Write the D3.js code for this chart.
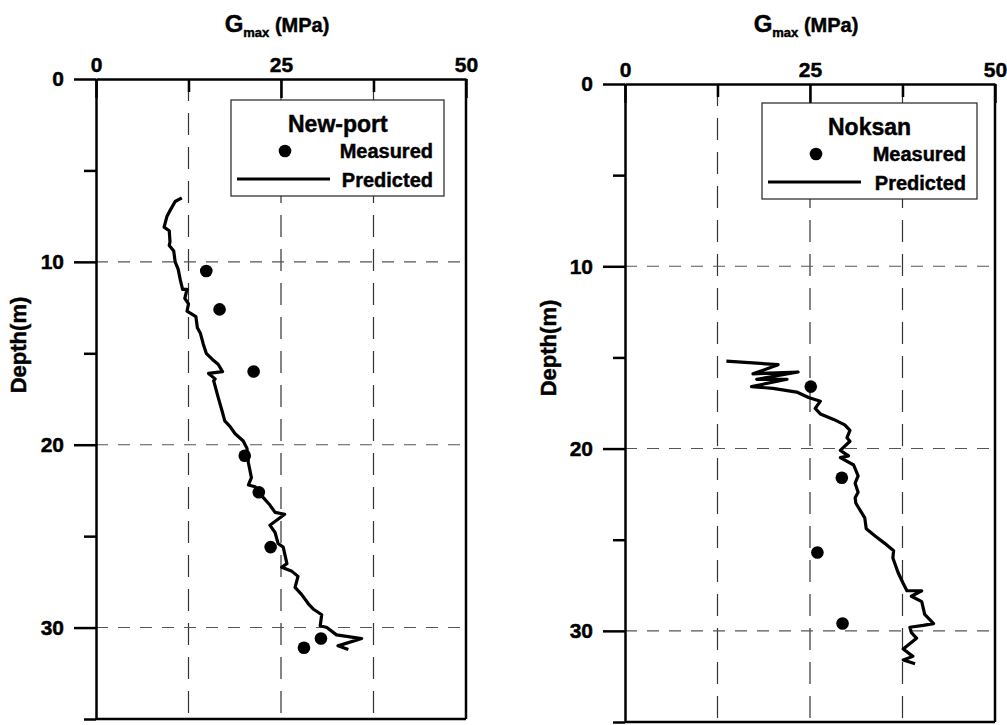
<!DOCTYPE html>
<html>
<head>
<meta charset="utf-8">
<script src="https://cdn.jsdelivr.net/npm/d3@7"></script>
<style>
  html, body { margin: 0; padding: 0; background: #fff; }
  svg { display: block; }
  text { font-family: "Liberation Sans", Arial, sans-serif; font-weight: bold; fill: #000; stroke: #000; stroke-width: 0.45px; }
</style>
</head>
<body>
<svg id="chart" width="1007" height="725"></svg>
<script>
// ---------- data ----------
const xTickValues = [0, 25, 50];
const xMinorTicks = [12.5, 37.5];
const yTickValues = [0, 10, 20, 30];
const yMinorTicks = [5, 15, 25, 35];
const xGrid = [12.5, 25, 37.5];
const yGrid = [10, 20, 30];

const siteNames = ["New-port", "Noksan"];
const legendLabels = ["Measured", "Predicted"];
const axisTitleX = "G";
const axisTitleSub = "max";
const axisTitleUnit = " (MPa)";
const axisTitleY = "Depth(m)";

// New-port measured
const newportMeasG     = [14.9, 16.7, 21.3, 20.1, 22.0, 23.6, 30.4, 28.1];
const newportMeasDepth = [10.5, 12.6, 16.0, 20.6, 22.6, 25.6, 30.6, 31.1];
// New-port predicted
const newportPredG = [11.6, 10.7, 10.0, 9.6, 9.2, 9.9, 10.0, 9.9, 10.5, 10.7, 11.1, 11.4, 11.7, 12.3, 12.0, 12.5, 12.3,
  13.5, 13.7, 14.1, 14.5, 14.9, 15.9, 16.5, 17.1, 15.2, 16.1, 15.9, 16.5, 17.0, 17.4, 18.1, 18.8, 19.9, 20.4, 20.6,
  21.0, 20.6, 21.5, 22.4, 23.5, 24.2, 25.5, 23.5, 24.2, 24.6, 25.3, 25.8, 25.1, 26.4, 27.3, 26.9, 27.8, 28.7, 29.4,
  30.5, 30.3, 31.2, 32.5, 35.9, 32.7, 34.1];
const newportPredDepth = [6.5, 6.7, 7.2, 7.5, 8.1, 8.3, 8.9, 9.1, 9.4, 10.0, 10.4, 11.0, 11.5, 11.5, 12.0, 12.3, 12.7,
  13.0, 13.6, 13.9, 14.5, 15.0, 15.4, 15.6, 16.0, 16.1, 16.4, 16.5, 17.4, 18.1, 18.7, 19.0, 19.4, 19.8, 20.2, 21.0,
  21.8, 22.2, 22.3, 22.8, 23.3, 23.7, 23.8, 24.4, 24.8, 25.4, 25.6, 26.5, 26.7, 26.9, 27.2, 27.8, 28.2, 28.7, 29.0,
  29.3, 29.9, 30.0, 30.4, 30.6, 31.0, 31.2];

// Noksan measured
const noksanMeasG     = [25.1, 29.3, 26.0, 29.4];
const noksanMeasDepth = [16.6, 21.6, 25.7, 29.6];
// Noksan predicted
const noksanPredG = [13.7, 20.7, 17.3, 23.4, 17.8, 21.9, 17.1, 20.0, 23.2, 24.8, 26.4, 25.7, 26.4, 28.2, 29.7, 30.4,
  30.0, 30.4, 29.1, 30.2, 29.1, 30.9, 31.5, 31.1, 31.5, 31.1, 31.2, 32.4, 32.6, 33.8, 35.1, 36.3, 36.2, 36.9, 37.6,
  38.1, 40.1, 38.7, 40.1, 40.5, 41.7, 40.3, 38.5, 38.7, 39.4, 37.6, 38.9, 37.6, 39.2];
const noksanPredDepth = [15.2, 15.4, 15.9, 15.8, 16.2, 16.2, 16.6, 16.7, 16.9, 17.2, 17.4, 17.8, 18.1, 18.4, 18.7, 19.0,
  19.4, 19.6, 20.1, 20.4, 20.5, 20.9, 21.5, 21.9, 22.4, 22.7, 23.0, 23.8, 24.4, 24.8, 25.2, 25.6, 26.0, 26.8, 27.4,
  27.8, 27.8, 28.1, 28.4, 29.1, 29.6, 29.7, 29.8, 30.1, 30.4, 31.0, 31.4, 31.6, 31.8];

// ---------- drawing ----------
const svg = d3.select("#chart");

function drawPanel(cfg) {
  const x = d3.scaleLinear().domain([0, 50]).range(cfg.xr);
  const y = d3.scaleLinear().domain([0, 35]).range(cfg.yr);
  const g = svg.append("g");

  // grid
  g.selectAll(".vg").data(xGrid).join("line")
    .attr("x1", d => x(d)).attr("x2", d => x(d))
    .attr("y1", y(0)).attr("y2", y(35))
    .attr("stroke", "#333").attr("stroke-width", 1.2)
    .attr("stroke-dasharray", "22,12");
  g.selectAll(".hg").data(yGrid).join("line")
    .attr("x1", x(0)).attr("x2", x(50))
    .attr("y1", d => y(d)).attr("y2", d => y(d))
    .attr("stroke", "#555").attr("stroke-width", 1.1)
    .attr("stroke-dasharray", "12,10");

  // frame right & bottom
  g.append("line").attr("x1", x(50)).attr("x2", x(50)).attr("y1", y(0)).attr("y2", y(35))
    .attr("stroke", "#000").attr("stroke-width", 2.5);
  g.append("line").attr("x1", x(0)).attr("x2", x(50)).attr("y1", y(35)).attr("y2", y(35))
    .attr("stroke", "#000").attr("stroke-width", 2.5);

  // top axis
  const top = g.append("g").attr("transform", `translate(0,${y(0)})`)
    .call(d3.axisTop(x).tickValues(xTickValues).tickSize(-19).tickSizeOuter(0).tickPadding(7).tickFormat(d3.format("d")));
  const topMinor = g.append("g").attr("transform", `translate(0,${y(0)})`)
    .call(d3.axisTop(x).tickValues(xMinorTicks).tickSize(-13).tickSizeOuter(0).tickFormat(""));
  topMinor.select(".domain").remove();

  // left axis
  const left = g.append("g").attr("transform", `translate(${x(0)},0)`)
    .call(d3.axisLeft(y).tickValues(yTickValues).tickSize(22).tickSizeOuter(0).tickPadding(10).tickFormat(d3.format("d")));
  const leftMinor = g.append("g").attr("transform", `translate(${x(0)},0)`)
    .call(d3.axisLeft(y).tickValues(yMinorTicks).tickSize(12).tickSizeOuter(0).tickFormat(""));
  leftMinor.select(".domain").remove();

  [top, topMinor, left, leftMinor].forEach(a => {
    a.selectAll("path, line").attr("stroke", "#000").attr("stroke-width", 2.5);
    a.selectAll("text").attr("font-size", 21).attr("font-family", '"Liberation Sans", Arial, sans-serif')
      .attr("font-weight", "bold").attr("fill", "#000");
  });

  // titles
  const cx = (cfg.xr[0] + cfg.xr[1]) / 2 - 4;
  const t = g.append("text").attr("x", cx).attr("y", cfg.titleY).attr("text-anchor", "middle").attr("font-size", 20);
  t.append("tspan").text(axisTitleX).attr("font-size", 24);
  t.append("tspan").text(axisTitleSub).attr("font-size", 13).attr("dy", 5);
  t.append("tspan").text(axisTitleUnit).attr("dy", -5);

  g.append("text").attr("transform", `translate(${cfg.yLabelX},${cfg.yLabelY}) rotate(-90)`)
    .attr("text-anchor", "middle").attr("font-size", 22).text(axisTitleY);

  // predicted line
  const lineData = cfg.predG.map((v, i) => [v, cfg.predD[i]]);
  g.append("path").datum(lineData)
    .attr("d", d3.line().x(d => x(d[0])).y(d => y(d[1])))
    .attr("fill", "none").attr("stroke", "#000").attr("stroke-width", 3.2).attr("stroke-linejoin", "round");

  // measured points
  g.selectAll(".pt").data(cfg.measG.map((v, i) => [v, cfg.measD[i]])).join("circle")
    .attr("cx", d => x(d[0])).attr("cy", d => y(d[1])).attr("r", 6.3).attr("fill", "#000");

  // legend
  const L = cfg.legend;
  g.append("rect").attr("x", L.x).attr("y", L.y).attr("width", L.w).attr("height", L.h)
    .attr("fill", "#fff").attr("stroke", "#222").attr("stroke-width", 1.2);
  g.append("text").attr("x", L.x + L.titleDx).attr("y", L.y + 32).attr("font-size", 23).text(cfg.name);
  g.append("circle").attr("cx", L.x + L.dotDx).attr("cy", L.y + 51).attr("r", 6.3).attr("fill", "#000");
  g.append("text").attr("x", L.x + L.w - 11).attr("y", L.y + 58).attr("text-anchor", "end").attr("font-size", 20).text(legendLabels[0]);
  g.append("line").attr("x1", L.x + 6).attr("x2", L.x + 99).attr("y1", L.y + 79).attr("y2", L.y + 79)
    .attr("stroke", "#000").attr("stroke-width", 3);
  g.append("text").attr("x", L.x + L.w - 11).attr("y", L.y + 87).attr("text-anchor", "end").attr("font-size", 20).text(legendLabels[1]);
}

drawPanel({
  name: siteNames[0], xr: [96, 466], yr: [79, 719], titleY: 32, yLabelX: 26, yLabelY: 345,
  measG: newportMeasG, measD: newportMeasDepth, predG: newportPredG, predD: newportPredDepth,
  legend: { x: 231, y: 100, w: 213, h: 96, titleDx: 57, dotDx: 54 }
});
drawPanel({
  name: siteNames[1], xr: [625, 995], yr: [84, 722], titleY: 32, yLabelX: 556, yLabelY: 348,
  measG: noksanMeasG, measD: noksanMeasDepth, predG: noksanPredG, predD: noksanPredDepth,
  legend: { x: 762, y: 103, w: 215, h: 96, titleDx: 66, dotDx: 54 }
});
</script>
</body>
</html>
